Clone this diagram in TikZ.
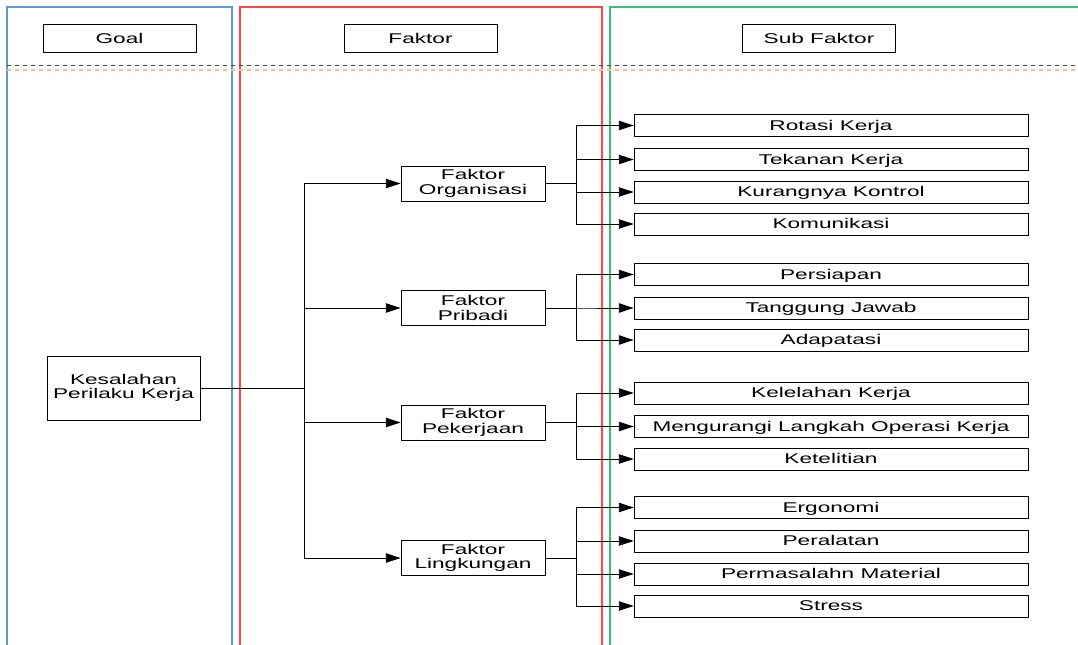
\documentclass[tikz,border=0pt]{standalone}
\usepackage{fontspec}
\setmainfont[FakeStretch=1.6]{Liberation Sans}
\usepackage{tikz}
\usetikzlibrary{arrows.meta}

\definecolor{laneblue}{RGB}{91,155,213}
\definecolor{lanered}{RGB}{255,70,70}
\definecolor{lanegreen}{RGB}{60,190,120}
\definecolor{sepgray}{RGB}{70,70,70}
\definecolor{seporange}{RGB}{248,190,140}

\tikzset{
  box/.style={draw=black, line width=0.6pt, inner sep=0pt, align=center, font=\fontsize{10.6}{10.8}\selectfont},
  headbox/.style={box, minimum width=114.75pt, minimum height=21pt},
  goalbox/.style={box, minimum width=114.75pt, minimum height=48pt},
  faktorbox/.style={box, minimum width=108pt, minimum height=26.25pt},
  subbox/.style={box, minimum width=295.5pt, minimum height=16.5pt, text depth=0.5pt},
  arrow/.style={draw=black, line width=0.6pt, -{Triangle[length=11pt, width=7pt]}}
}

\begin{document}
\begin{tikzpicture}[x=0.75pt, y=-0.75pt]
				\useasboundingbox (0,0) rectangle (1078,645);
				
				% lanes
				\draw[laneblue, line width=0.8pt] (7,645) |- (232,7) -- (232,645);
				\draw[lanered, line width=0.8pt] (240,645) |- (602,7) -- (602,645);
				\draw[lanegreen, line width=0.8pt] (610,645) |- (1078,7);
				\draw[sepgray, dashed, line width=0.6pt] (7,65) -- (1078,65);
				\draw[seporange, dashed, line width=1.2pt] (7,70) -- (1078,70);
				
				% headers
				\node[headbox] (hgoal) at (119.5,38) {Goal};
				\node[headbox] (hfaktor) at (420.5,38) {Faktor};
				\node[headbox] (hsub) at (819,38) {Sub Faktor};
				
				% goal and faktor
				\node[goalbox] (kpk) at (123.5,388) {Kesalahan\\Perilaku Kerja};
				\node[faktorbox] (fo) at (473,183.5) {Faktor\\Organisasi};
				\node[faktorbox] (fp) at (473,308) {Faktor\\Pribadi};
				\node[faktorbox] (fk) at (473,422.5) {Faktor\\Pekerjaan};
				\node[faktorbox] (fl) at (473,558) {Faktor\\Lingkungan};
				
				% sub faktor
				\node[subbox] (o1) at (831,125.5) {Rotasi Kerja};
				\node[subbox] (o2) at (831,159.5) {Tekanan Kerja};
				\node[subbox] (o3) at (831,192) {Kurangnya Kontrol};
				\node[subbox] (o4) at (831,224) {Komunikasi};
				\node[subbox] (p1) at (831,274.5) {Persiapan};
				\node[subbox] (p2) at (831,308) {Tanggung Jawab};
				\node[subbox] (p3) at (831,340) {Adapatasi};
				\node[subbox] (k1) at (831,393) {Kelelahan Kerja};
				\node[subbox] (k2) at (831,426.5) {Mengurangi Langkah Operasi Kerja};
				\node[subbox] (k3) at (831,459) {Ketelitian};
				\node[subbox] (l1) at (831,507.5) {Ergonomi};
				\node[subbox] (l2) at (831,541) {Peralatan};
				\node[subbox] (l3) at (831,574) {Permasalahn Material};
				\node[subbox] (l4) at (831,606) {Stress};
				
				\foreach \f in {fo,fp,fk,fl}
					\draw[arrow] (kpk.east) -- ++(104,0) |- (\f.west);
				\foreach \s in {o1,o2,o3,o4}
					\draw[arrow] (fo.east) -- ++(31,0) |- (\s.west);
				\foreach \s in {p1,p2,p3}
					\draw[arrow] (fp.east) -- ++(31,0) |- (\s.west);
				\foreach \s in {k1,k2,k3}
					\draw[arrow] (fk.east) -- ++(31,0) |- (\s.west);
				\foreach \s in {l1,l2,l3,l4}
					\draw[arrow] (fl.east) -- ++(31,0) |- (\s.west);
				\end{tikzpicture}
\end{document}
